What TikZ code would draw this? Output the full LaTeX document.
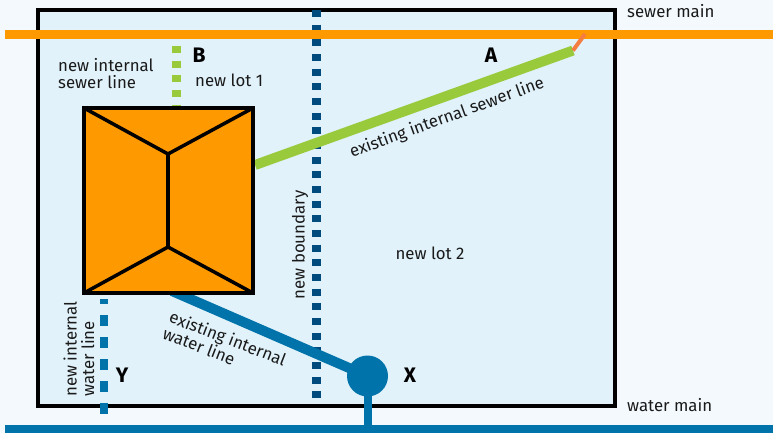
\documentclass[tikz,border=0pt]{standalone}
\usepackage{fontspec}
\setmainfont{Fira Sans}
\usepackage{xcolor}
\usetikzlibrary{positioning,calc}

\begin{document}
\begin{tikzpicture}[x=1pt,y=-1pt]
	\definecolor{pagebg}{RGB}{243,249,253}
	\definecolor{lotbg}{RGB}{225,242,250}
	\definecolor{sewerorange}{RGB}{255,153,0}
	\definecolor{stuborange}{RGB}{244,125,66}
	\definecolor{sewergreen}{RGB}{153,202,60}
	\definecolor{waterblue}{RGB}{0,115,170}
	\definecolor{bounddark}{RGB}{0,75,125}
	\definecolor{labelink}{RGB}{26,26,26}
	\tikzset{
		mainline/.style={line width=9pt},
		wallline/.style={draw=black, line width=4pt},
		ridge/.style={draw=black, line width=3.5pt},
		newsewer/.style={draw=sewergreen, line width=9pt, dash pattern=on 7pt off 7.67pt},
		newwater/.style={draw=waterblue, line width=7.5pt, dash pattern=on 11pt off 11pt},
		bound/.style={draw=bounddark, line width=9pt, dash pattern=on 7pt off 7.67pt},
		lbl/.style={font=\fontsize{16.8}{17.5}\selectfont, text=labelink, inner sep=0pt, align=left},
		letter/.style={font=\fontsize{21}{22}\selectfont\bfseries, text=black, inner sep=0pt}
	}

	\useasboundingbox (0,0) rectangle (773,433);
	\fill[pagebg] (0,0) rectangle (773,433);

	% ======= lot =======
	\draw[wallline, fill=lotbg] (38,10) rectangle (615,406);

	\coordinate (sewerL) at (5,34.5);
	\coordinate (sewerR) at (773,34.5);
	\coordinate (waterL) at (5,429.5);
	\coordinate (waterR) at (773,429.5);
	\coordinate (boundT) at (316,10);
	\coordinate (boundB) at (316,403);
	\coordinate (bT) at (176,46);
	\coordinate (bB) at (176,108);
	\coordinate (yT) at (104,299);
	\coordinate (yB) at (104,429);
	\coordinate (aEnd) at (573,50.5);
	\coordinate (aStart) at (255,165);
	\coordinate (aTap) at (585,34);
	\coordinate (xStart) at (172,291);
	\coordinate (xTap) at (367.5,429.5);

	% ======= boundary and new lines =======
	\draw[bound] (boundT) -- (boundB);
	\draw[newsewer] (bT) -- (bB);
	\draw[newwater, dash phase=6pt] (yT) -- (yB);

	% ======= existing lines =======
	\node[circle, fill=waterblue, minimum size=41pt, inner sep=0pt] (meter) at (367.5,376) {};
	\draw[waterblue, line width=10pt] (xStart) -- (meter.center);
	\draw[waterblue, line width=8pt] (meter.center) -- (xTap);
	\draw[sewergreen, line width=10pt] (aStart) -- (aEnd);

	% ======= mains =======
	\draw[sewerorange, mainline] (sewerL) -- (sewerR);
	\draw[waterblue, mainline] (waterL) -- (waterR);
	\draw[stuborange, line width=4pt] (aEnd) -- (aTap);

	% ======= house =======
	\coordinate (hNW) at (84,108);
	\coordinate (hNE) at (253,108);
	\coordinate (hSW) at (84,293);
	\coordinate (hSE) at (253,293);
	\coordinate (hU) at (168,154);
	\coordinate (hD) at (168,247);
	\draw[wallline, fill=sewerorange] (hNW) rectangle (hSE);
	\draw[ridge] (hNW) -- (hU) -- (hNE);
	\draw[ridge] (hU) -- (hD);
	\draw[ridge] (hSW) -- (hD) -- (hSE);

	% ======= labels =======
	\node[lbl, anchor=west] (lblSewerMain) at (627,11) {sewer main};
	\node[lbl, anchor=west] (lblWaterMain) at (627,405) {water main};
	\node[letter] (lblA) at (491,55) {A};
	\node[letter] (lblB) at (199,55) {B};
	\node[letter] (lblX) at (410,375) {X};
	\node[letter] (lblY) at (122,375) {Y};
	\node[lbl, anchor=west] (lblLot1) at (195,80) {new lot 1};
	\node[lbl] (lblLot2) at (430,253) {new lot 2};
	\node[lbl, anchor=west] (lblNewSewer) at (58,73.5) {new internal\\sewer line};
	\node[lbl, rotate=20] (lblOldSewer) at (447,118) {existing internal sewer line};
	\node[lbl, rotate=90] (lblBound) at (300,245) {new boundary};
	\node[lbl, rotate=90] (lblNewWater) at (79,349) {new internal\\water line};
	\node[lbl, rotate=-21, anchor=west] (lblOldWater) at (167,324) {existing internal\\water line};
\end{tikzpicture}
\end{document}
